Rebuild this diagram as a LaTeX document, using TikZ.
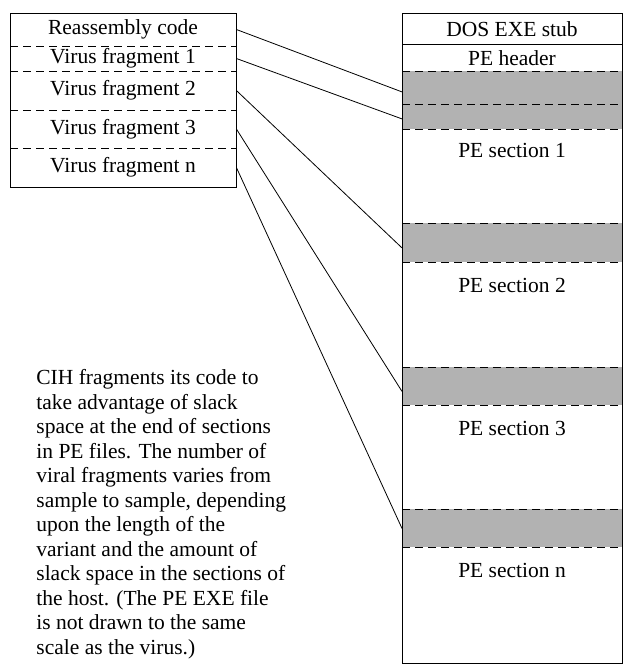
\documentclass[tikz,border=0pt]{standalone}
\usepackage{fontspec}
\setmainfont{Liberation Serif}
\usetikzlibrary{positioning}
\begin{document}
\begin{tikzpicture}[x=1pt,y=-1pt,line width=0.8pt,
  every node/.style={font=\fontsize{21.5}{24.5}\selectfont},
  cell/.style={minimum width=226pt,inner sep=0pt},
  slack/.style={fill=black!30,minimum width=220pt,inner sep=0pt,anchor=north west},
  sep/.style={dash pattern=on 8pt off 5pt}]
    \useasboundingbox (0,0) rectangle (623,665);

    % virus body
    \draw (10,13) rectangle (236,187);
    \node[cell] (reasm) at (123,29.5) {Reassembly code};
    \node[cell] (frag1) at (123,58.5) {Virus fragment 1};
    \node[cell] (frag2) at (123,90.5) {Virus fragment 2};
    \node[cell] (frag3) at (123,129) {Virus fragment 3};
    \node[cell] (fragn) at (123,167.5) {Virus fragment n};
    \draw[sep] (10,46) -- (236,46);
    \draw[sep] (10,71) -- (236,71);
    \draw[sep] (10,110) -- (236,110);
    \draw[sep] (10,148) -- (236,148);

    % PE file
    \node[slack,minimum height=33pt] (slot1) at (402,71) {};
    \node[slack,minimum height=25pt] (slot1b) at (402,104) {};
    \node[slack,minimum height=39pt] (slot2) at (402,223) {};
    \node[slack,minimum height=38pt] (slot3) at (402,367) {};
    \node[slack,minimum height=38pt] (slotn) at (402,509) {};
    \foreach \s in {slot1,slot1b,slot2,slot3,slotn}
        \draw[sep] (\s.north west) -- (\s.north east)
                   (\s.south west) -- (\s.south east);
    \draw (402,13) rectangle (622,663);
    \draw (402,44) -- (622,44);
    \node (stub) at (512,29) {DOS EXE stub};
    \node (hdr) at (512,58) {PE header};
    \node (sec1) at (512,150) {PE section 1};
    \node (sec2) at (512,285) {PE section 2};
    \node (sec3) at (512,428) {PE section 3};
    \node (secn) at (512,570) {PE section n};

    % where the pieces go
    \draw (reasm.east) -- ([yshift=-4pt]slot1.west);
    \draw (frag1.east) -- ([yshift=-2pt]slot1b.west);
    \draw (frag2.east) -- ([yshift=-5pt]slot2.west);
    \draw (frag3.east) -- ([yshift=-5pt]slot3.west);
    \draw (fragn.east) -- (slotn.west);

    \node[anchor=north west,align=left,inner sep=0pt] (note) at (36,369)
        {CIH fragments its code to\\
         take advantage of slack\\
         space at the end of sections\\
         in PE files. The number of\\
         viral fragments varies from\\
         sample to sample, depending\\
         upon the length of the\\
         variant and the amount of\\
         slack space in the sections of\\
         the host. (The PE EXE file\\
         is not drawn to the same\\
         scale as the virus.)};
\end{tikzpicture}
\end{document}
